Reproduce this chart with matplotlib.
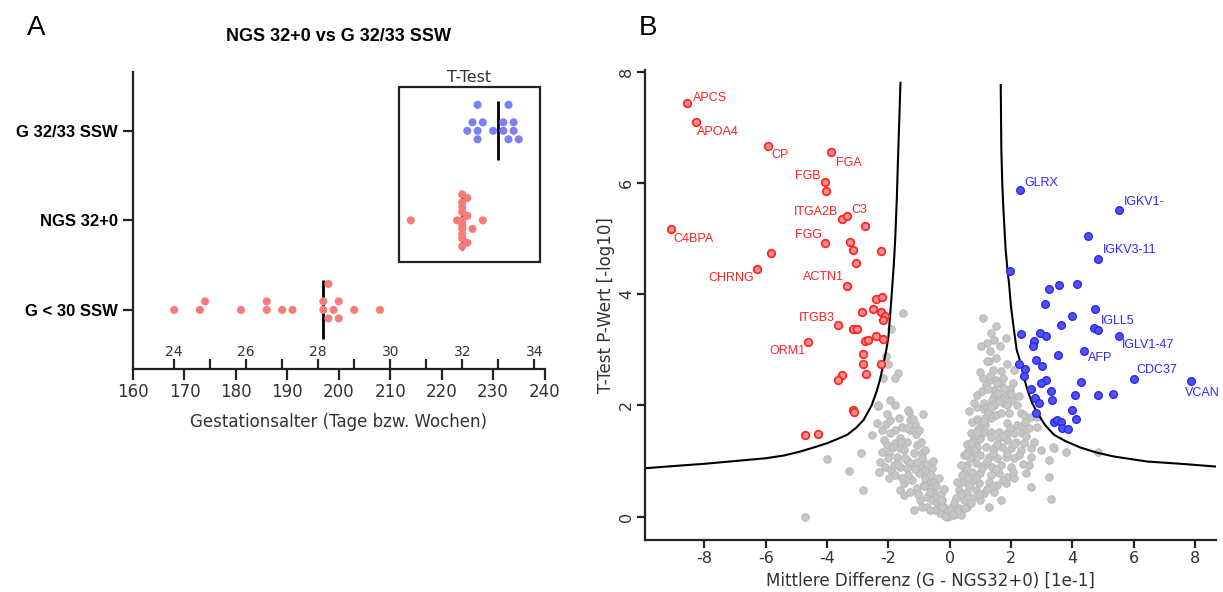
import numpy as np
import matplotlib.pyplot as plt
from matplotlib.patches import Rectangle

plt.rcParams["font.family"] = ["DejaVu Sans"]
plt.rcParams["axes.unicode_minus"] = False

# ---------------- Panel A data: gestational age in days ----------------
groups = ["G < 30 SSW", "NGS 32+0", "G 32/33 SSW"]
g30_days = [168, 173, 174, 181, 186, 186, 189, 191, 197, 197, 198, 198, 199, 200, 200, 203, 208]
ngs_days = [214, 223, 224, 224, 224, 224, 224, 224, 224, 224, 224, 224, 225, 225, 225, 226, 228]
g3233_days = [225, 226, 227, 227, 227, 228, 230, 232, 232, 233, 233, 234, 234, 235]
group_colors = ["#f87b7b", "#f87b7b", "#7f7ff4"]
day_ticks = [160, 170, 180, 190, 200, 210, 220, 230, 240]
week_ticks = [24, 26, 28, 30, 32, 34]

# ---------------- Panel B data: volcano plot ----------------
red_x = [-8.58, -8.29, -5.93, -3.87, -4.08, -4.04, -3.50, -3.34, -2.75, -9.09, -4.08, -3.25,
         -3.17, -2.24, -5.83, -3.06, -6.29, -3.35, -2.40, -2.20, -2.86, -2.50, -2.26, -2.12,
         -2.18, -3.65, -3.16, -3.03, -2.40, -2.18, -2.75, -2.68, -4.64, -2.83, -2.83, -2.26,
         -2.72, -3.52, -3.65, -3.16, -3.14, -4.72, -4.31]
red_y = [7.43, 7.09, 6.67, 6.55, 6.01, 5.86, 5.35, 5.40, 5.22, 5.17, 4.92, 4.94,
         4.80, 4.78, 4.74, 4.56, 4.45, 4.15, 3.92, 3.94, 3.68, 3.74, 3.68, 3.60,
         3.53, 3.44, 3.38, 3.38, 3.24, 3.20, 3.15, 3.17, 3.14, 2.93, 2.74, 2.74,
         2.56, 2.54, 2.46, 1.92, 1.88, 1.47, 1.48]
red_genes = ["APCS", "APOA4", "CP", "FGA", "FGB", "", "ITGA2B", "C3", "", "C4BPA", "FGG", "",
             "", "", "", "", "CHRNG", "ACTN1", "", "", "", "", "", "",
             "", "ITGB3", "", "", "", "", "", "", "ORM1", "", "", "",
             "", "", "", "", "", "", ""]

blue_x = [2.28, 5.51, 4.49, 4.82, 1.95, 3.24, 3.56, 4.15, 3.12, 4.74, 4.00, 3.64,
          4.71, 4.84, 2.31, 2.93, 3.15, 2.75, 2.71, 5.51, 4.37, 3.53, 2.82, 2.99,
          2.26, 2.44, 2.42, 5.99, 7.87, 4.27, 3.15, 2.97, 2.64, 3.30, 4.08, 4.83,
          5.33, 2.78, 2.91, 3.33, 3.97, 4.13, 2.81, 3.40, 3.51, 3.63, 3.65, 3.84]
blue_y = [5.88, 5.52, 5.05, 4.63, 4.42, 4.10, 4.17, 4.18, 3.82, 3.74, 3.60, 3.44,
          3.40, 3.36, 3.28, 3.30, 3.24, 3.16, 3.06, 3.24, 2.98, 2.90, 2.82, 2.71,
          2.74, 2.66, 2.52, 2.48, 2.44, 2.42, 2.46, 2.40, 2.30, 2.26, 2.18, 2.18,
          2.20, 2.14, 2.04, 2.10, 1.92, 1.76, 1.86, 1.70, 1.74, 1.70, 1.60, 1.58]
blue_genes = ["GLRX", "IGKV1-", "", "IGKV3-11", "", "", "", "", "", "", "", "",
              "", "IGLL5", "", "", "", "", "", "IGLV1-47", "AFP", "", "", "",
              "", "", "", "CDC37", "VCAN", "", "", "", "", "", "", "",
              "", "", "", "", "", "", "", "", "", "", "", ""]

gray_x = [-4.72, -4.01, -3.30, -2.83, -2.90, -2.54, -2.38, -2.35, -1.96, -2.07, -1.94, -1.67,
          -1.34, -0.87, -1.12, -1.29, -1.09, -1.56, -1.78, -1.96, -2.16, -2.05, -1.78, -1.61,
          -2.21, -1.99, -2.27, -2.10, -2.32, -1.92, -1.78, -1.61, -1.40, -1.18, -1.07, -0.91,
          -1.72, -1.50, -1.29, -0.96, -0.80, -0.58, -1.01, -1.23, -1.50, -1.61, -1.50, -1.29,
          -1.07, -0.85, -0.69, -0.52, -1.18, -0.96, -0.74, -0.58, -0.42, -0.31, -0.14, -0.09,
          -0.52, -0.91, -0.74, -0.63, -0.80, -1.40, -1.07, -1.83, -1.99, -1.61, -1.40, -1.29,
          -1.01, -0.42, -0.25, -0.31, -0.47, -0.63, -0.20,
          -1.54, -1.92, -2.07, -2.03, -1.69, -1.80, -2.19, -2.35, -1.37,
          -0.30, -0.45, -0.60, -0.75, -0.90, -1.15, -1.35, -1.45, -1.60, -1.85, -2.00, -1.70,
          -1.40, -1.20, -0.95, -0.80, -0.65, -0.85, -1.05, -0.20, -0.35, -2.05, -1.80, -2.20,
          -1.55, -0.55,
          1.08, 1.49, 1.82, 1.44, 1.22, 1.02, 1.31, 1.63, 1.27, 1.42, 1.66, 2.09,
          1.08, 1.31, 1.49, 1.66, 2.07, 1.19, 1.44, 1.60, 0.89, 1.87, 2.26, 2.04,
          1.44, 1.11, 1.44, 0.89, 1.22, 1.76,
          1.11, 1.44, 1.87, 1.49, 1.66, 1.93, 2.31, 2.42, 2.64, 2.85,
          0.73, 1.33, 1.87, 2.20, 2.31, 2.58, 2.85, 0.89, 1.11, 1.33, 1.60, 1.87, 2.09, 2.36,
          0.78, 1.00, 1.33, 1.60, 1.87, 2.15, 2.42, 2.75,
          0.68, 0.89, 1.17, 1.44, 1.71, 1.98, 2.31, 2.64, 2.96, 3.40, 3.78,
          0.73, 1.00, 1.27, 1.55, 1.82, 2.09, 2.64, 3.24,
          0.57, 0.84, 1.11, 1.38, 1.66, 1.98, 2.58,
          0.46, 0.73, 1.00, 1.33, 1.60, 1.87, 2.47, 3.24,
          0.40, 0.68, 0.95, 1.27, 1.55, 1.82, 2.09,
          0.30, 0.57, 0.84, 1.11, 1.44, 2.64,
          0.19, 0.46, 0.73, 1.00, 1.66, 3.29,
          0.08, 0.30, 0.57, 1.27, -0.09, 0.13, 0.35, -0.25, -0.30,
          4.82, 3.37,
          0.35, 0.62, 0.85, 1.05, 1.20, 1.40, 1.55, 1.72, 1.95, 0.50, 0.65, 0.80,
          0.95, 1.15, 1.30, 0.55, 0.70, 0.90, 1.05, 1.25, 1.55, 1.75, 1.95, 2.20,
          2.45, 2.50, 2.25, 2.40, 2.05, 1.75, 1.40, 1.20, 0.95, 0.70, 0.50, 0.25,
          0.15, 0.40, 0.60, 1.50, 1.85, 2.10, 0.45, 0.62, 0.80, 1.00, 1.20, 1.50,
          1.85, 1.35, 0.00, -0.05, 0.05, 0.10, -0.15,
          0.95, 1.20, 1.38, 1.58, 1.78, 0.85, 1.05, 1.25, 1.45, 1.70, 2.00, 0.60,
          0.75, 0.92, 1.15, 1.35, 1.62, 0.38, 0.52, 0.68, 0.88, 1.10, 1.30, 0.22]
gray_y = [0.00, 1.03, 0.82, 0.48, 1.14, 1.47, 1.69, 1.99, 2.10, 1.67, 1.74, 1.78,
          1.89, 1.84, 1.66, 1.56, 1.48, 1.62, 1.56, 1.50, 1.38, 1.29, 1.32, 1.23,
          1.17, 1.14, 0.99, 0.90, 0.81, 0.83, 0.75, 0.90, 1.02, 1.14, 1.29, 1.15,
          1.08, 1.20, 0.96, 0.93, 0.84, 0.87, 0.78, 0.66, 0.60, 0.48, 0.39, 0.45,
          0.51, 0.57, 0.66, 0.63, 0.12, 0.30, 0.36, 0.30, 0.24, 0.18, 0.09, 0.00,
          0.42, 0.18, 0.18, 0.51, 0.69, 0.87, 0.99, 0.93, 0.69, 1.41, 1.35, 1.74,
          1.56, 0.36, 0.30, 0.06, 0.12, 0.12, 0.18,
          3.67, 3.38, 2.89, 2.74, 2.58, 2.50, 2.50, 2.01, 1.92,
          0.40, 0.55, 0.75, 0.95, 1.05, 0.85, 0.75, 1.05, 1.35, 1.25, 1.05, 0.95,
          1.60, 1.75, 1.35, 1.20, 0.45, 0.55, 0.40, 0.50, 0.70, 1.85, 2.00, 1.55,
          0.70, 1.00,
          3.58, 3.43, 3.22, 3.18, 3.13, 3.06, 2.98, 3.06, 2.79, 2.63, 2.61, 2.64,
          2.50, 2.45, 2.46, 2.38, 2.40, 2.37, 2.28, 2.19, 2.18, 2.19, 2.16, 2.10,
          2.16, 2.04, 2.01, 1.98, 1.98, 2.04,
          1.93, 2.01, 2.01, 1.83, 1.86, 1.86, 1.86, 1.83, 1.80, 1.80,
          1.71, 1.77, 1.68, 1.65, 1.62, 1.59, 1.62, 1.53, 1.53, 1.53, 1.53, 1.50, 1.50, 1.50,
          1.38, 1.41, 1.44, 1.41, 1.38, 1.35, 1.32, 1.35,
          1.23, 1.26, 1.26, 1.23, 1.26, 1.23, 1.20, 1.23, 1.20, 1.23, 1.17,
          1.08, 1.11, 1.08, 1.05, 1.08, 1.05, 1.08, 1.02,
          0.93, 0.96, 0.93, 0.90, 0.93, 0.90, 0.93,
          0.78, 0.81, 0.78, 0.75, 0.78, 0.72, 0.78, 0.72,
          0.63, 0.63, 0.60, 0.63, 0.57, 0.60, 0.69,
          0.48, 0.45, 0.48, 0.42, 0.45, 0.54,
          0.33, 0.30, 0.33, 0.30, 0.30, 0.32,
          0.18, 0.15, 0.18, 0.18, 0.06, 0.03, 0.03, 0.18, 0.30,
          1.17, 1.26,
          0.40, 0.55, 0.70, 0.87, 1.00, 1.15, 1.30, 1.45, 1.60, 0.90, 1.05, 1.20,
          1.40, 1.65, 1.85, 1.30, 1.50, 1.75, 2.25, 2.30, 2.40, 2.50, 2.30, 2.00,
          1.70, 1.45, 1.10, 0.95, 0.80, 0.65, 0.55, 0.50, 0.40, 0.25, 0.15, 0.10,
          0.25, 0.75, 0.70, 0.85, 1.15, 1.30, 1.10, 1.90, 2.05, 2.60, 2.80, 2.85,
          2.75, 3.30, 0.02, 0.10, 0.12, 0.05, 0.02,
          1.72, 1.95, 2.10, 2.22, 2.32, 1.46, 1.68, 1.88, 2.02, 2.12, 2.20, 1.18,
          1.36, 1.58, 1.78, 1.98, 2.08, 0.92, 1.12, 1.32, 1.52, 1.72, 2.52, 0.62]

# significance threshold curve
curve_left_x = [-9.94, -9.0, -8.0, -7.0, -6.0, -5.4, -4.88, -4.4, -4.0, -3.65, -3.35, -3.05,
                -2.81, -2.55, -2.37, -2.26, -2.16, -2.07, -2.0, -1.95, -1.9, -1.83, -1.78,
                -1.73, -1.69, -1.65, -1.61]
curve_left_y = [0.87, 0.91, 0.95, 1.0, 1.05, 1.1, 1.17, 1.25, 1.32, 1.4, 1.47, 1.6,
                1.74, 2.0, 2.28, 2.5, 2.76, 3.0, 3.24, 3.6, 3.96, 4.5, 5.0,
                5.7, 6.42, 7.1, 7.8]
curve_right_x = [1.66, 1.68, 1.71, 1.74, 1.78, 1.82, 1.87, 1.93, 1.99, 2.09, 2.18, 2.31,
                 2.42, 2.53, 2.68, 2.86, 3.1, 3.40, 3.8, 4.27, 4.8, 5.36, 6.45, 7.54, 8.68]
curve_right_y = [7.76, 6.6, 6.0, 5.6, 5.2, 4.8, 4.5, 4.2, 3.8, 3.36, 3.0, 2.76,
                 2.5, 2.28, 2.05, 1.86, 1.65, 1.47, 1.35, 1.24, 1.15, 1.08, 0.99, 0.95, 0.90]

# label offsets (points) and alignment
label_pos = {
    "APCS": (4.3, 4.0, "left"), "APOA4": (1.2, -6.8, "left"), "CP": (2.6, -6.7, "left"),
    "FGA": (3.4, -7.5, "left"), "FGB": (-3.1, 4.5, "right"), "ITGA2B": (-2.9, 4.8, "right"),
    "C3": (2.7, 4.3, "left"), "C4BPA": (1.7, -7.2, "left"), "FGG": (-1.9, 6.0, "right"),
    "CHRNG": (-2.4, -6.3, "right"), "ACTN1": (-1.9, 6.0, "right"), "ITGB3": (-2.4, 5.3, "right"),
    "ORM1": (-1.7, -6.3, "right"), "GLRX": (3.1, 4.8, "left"), "IGKV1-": (3.4, 5.5, "left"),
    "IGKV3-11": (4.0, 6.5, "left"), "IGLL5": (1.9, 6.0, "left"), "IGLV1-47": (2.2, -6.0, "left"),
    "AFP": (2.7, -5.3, "left"), "CDC37": (2.4, 6.3, "left"), "VCAN": (-4.8, -8.4, "left"),
}

AX_COLOR = "#222222"
TXT = "#333333"

fig = plt.figure(figsize=(12.23, 5.92), dpi=100)

# ======================= Panel A =======================
axA = fig.add_axes([133 / 1223, 1 - 369 / 592, 411.5 / 1223, 297.3 / 592])
axA.set_xlim(160, 240)
axA.set_ylim(-0.66, 2.66)
for s in ["top", "right"]:
    axA.spines[s].set_visible(False)
for s in ["left", "bottom"]:
    axA.spines[s].set_linewidth(1.6)
    axA.spines[s].set_color(AX_COLOR)

bbox = axA.get_window_extent()
px_x = bbox.width / 80.0
px_y = bbox.height / 3.32


def swarm(vals, diam=8.4):
    rows = [0.0, 0.095, -0.095, 0.29, -0.29]
    fine = list(np.round(np.arange(-0.3, 0.301, 0.05), 3))
    placed = []
    offs = []
    for v in vals:
        pick = None
        for c in rows:
            d = min([np.hypot((v - pv) * px_x, (c - pc) * px_y) for pv, pc in placed] or [1e9])
            if d >= diam:
                pick = c
                break
        if pick is None:
            best_d = -1
            for c in fine:
                d = min(np.hypot((v - pv) * px_x, (c - pc) * px_y) for pv, pc in placed)
                if d > best_d + 1e-6:
                    pick, best_d = c, d
        placed.append((v, pick))
        offs.append(pick)
    return np.array(offs)


for i, (days, col) in enumerate(zip([g30_days, ngs_days, g3233_days], group_colors)):
    days = np.array(days, dtype=float)
    off = swarm(days)
    axA.scatter(days, i + off, s=34, color=col, edgecolors="none", zorder=3)
    axA.vlines(np.median(days), i - 0.33, i + 0.33, color="black", lw=2, zorder=2)

axA.set_yticks(range(3))
axA.set_yticklabels(groups, fontsize=12, fontweight="bold", family="Liberation Sans", color="black")
axA.tick_params(axis="y", length=7, width=1.6, color=AX_COLOR, pad=4)
axA.set_xticks(day_ticks)
axA.tick_params(axis="x", length=8, width=1.6, color=AX_COLOR, labelsize=12, labelcolor=TXT, pad=2)
axA.set_xlabel("Gestationsalter (Tage bzw. Wochen)", fontsize=12, color=TXT, labelpad=9)
axA.set_title("NGS 32+0 vs G 32/33 SSW", fontsize=13, fontweight="bold",
              family="Liberation Sans", pad=22)

# week scale drawn on the same spine, ticks pointing up
sec = axA.secondary_xaxis(0.0, functions=(lambda d: d / 7.0, lambda w: w * 7.0))
sec.set_alignment("top")
sec.spines["top"].set_visible(False)
sec.set_xticks(week_ticks)
sec.set_xticks(np.arange(24, 35, 1), minor=True)
sec.tick_params(which="both", direction="out", length=7, width=1.6, color=AX_COLOR)
sec.tick_params(which="major", labelsize=10, labelcolor=TXT, pad=0)

# T-Test box around the two upper groups
axA.add_patch(Rectangle((211.7, 0.54), 27.4, 1.945, fill=False, lw=1.6,
                        edgecolor=AX_COLOR, zorder=1))
axA.text(225.4, 2.51, "T-Test", ha="center", va="bottom", fontsize=11.5, color=TXT)

fig.text(36 / 1223, 1 - 28 / 592, "A", fontsize=20, family="Liberation Sans",
         ha="center", va="center")

# ======================= Panel B =======================
axB = fig.add_axes([645 / 1223, 1 - 540 / 592, 571 / 1223, 470 / 592])
axB.set_xlim(-9.94, 8.68)
axB.set_ylim(-0.42, 8.03)
for s in ["top", "right"]:
    axB.spines[s].set_visible(False)
for s in ["left", "bottom"]:
    axB.spines[s].set_linewidth(1.6)
    axB.spines[s].set_color(AX_COLOR)

axB.scatter(gray_x, gray_y, s=30, color="#c6c6c6", edgecolors="#b5b5b5", linewidths=0.6, zorder=1)
axB.plot(curve_left_x, curve_left_y, color="black", lw=1.5, zorder=2)
axB.plot(curve_right_x, curve_right_y, color="black", lw=1.5, zorder=2)
axB.scatter(red_x, red_y, s=30, color="#ff8c8c", edgecolors="#ff2020", linewidths=1.2, zorder=3)
axB.scatter(blue_x, blue_y, s=30, color="#5050ff", edgecolors="#2a2ae6", linewidths=1.0, zorder=3)

for xs, ys, names, col in [(red_x, red_y, red_genes, "#ff2020"),
                           (blue_x, blue_y, blue_genes, "#2a2aff")]:
    for x, y, name in zip(xs, ys, names):
        if not name:
            continue
        dx, dy, ha = label_pos[name]
        axB.annotate(name, (x, y), xytext=(dx, dy), textcoords="offset points",
                     ha=ha, va="center", fontsize=9, color=col, family="Liberation Sans")

axB.set_xticks(np.arange(-8, 9, 2))
axB.set_yticks(np.arange(0, 9, 2))
axB.tick_params(axis="both", length=6, width=1.6, color=AX_COLOR, labelsize=11.5,
                labelcolor=TXT, pad=2)
for lbl in axB.get_yticklabels():
    lbl.set_rotation(90)
    lbl.set_va("center")
axB.set_xlabel("Mittlere Differenz (G - NGS32+0) [1e-1]", fontsize=12, color=TXT, labelpad=4)
axB.set_ylabel("T-Test P-Wert [-log10]", fontsize=12, color=TXT, labelpad=3)

fig.text(648 / 1223, 1 - 28 / 592, "B", fontsize=20, family="Liberation Sans",
         ha="center", va="center")

fig.savefig("out.png", dpi=100)
